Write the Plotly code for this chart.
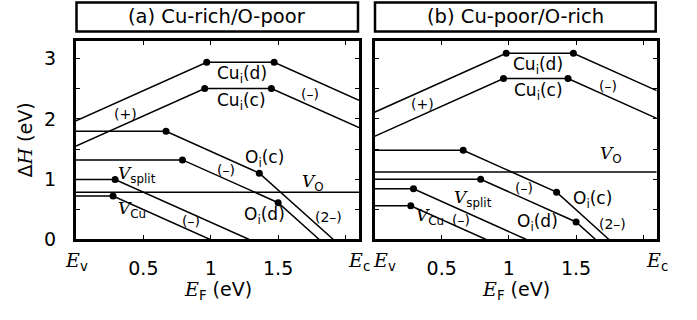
import plotly.graph_objects as go

# ---- formation energy ΔH (eV) versus Fermi level E_F (eV) ----
# each defect is a polyline; interior vertices are charge-transition levels

# (a) Cu-rich / O-poor
a_cui_d_ef = [0.0, 0.97, 1.47, 2.1]
a_cui_d_dh = [1.97, 2.94, 2.94, 2.31]
a_cui_c_ef = [0.0, 0.955, 1.45, 2.1]
a_cui_c_dh = [1.55, 2.505, 2.505, 1.855]
a_oi_c_ef = [0.0, 0.668, 1.36, 1.91]
a_oi_c_dh = [1.795, 1.795, 1.10, 0.0]
a_oi_d_ef = [0.0, 0.79, 1.50, 1.805]
a_oi_d_dh = [1.32, 1.32, 0.61, 0.0]
a_vsplit_ef = [0.0, 0.29, 1.285]
a_vsplit_dh = [0.995, 0.995, 0.0]
a_vcu_ef = [0.0, 0.275, 0.995]
a_vcu_dh = [0.72, 0.72, 0.0]
a_vo_ef = [0.0, 2.1]
a_vo_dh = [0.785, 0.785]

# (b) Cu-poor / O-rich
b_cui_d_ef = [0.0, 0.98, 1.48, 2.1]
b_cui_d_dh = [2.11, 3.09, 3.09, 2.47]
b_cui_c_ef = [0.0, 0.96, 1.44, 2.1]
b_cui_c_dh = [1.71, 2.67, 2.67, 2.01]
b_oi_c_ef = [0.0, 0.66, 1.355, 1.745]
b_oi_c_dh = [1.48, 1.48, 0.785, 0.0]
b_oi_d_ef = [0.0, 0.79, 1.50, 1.645]
b_oi_d_dh = [1.0, 1.0, 0.29, 0.0]
b_vsplit_ef = [0.0, 0.29, 1.13]
b_vsplit_dh = [0.84, 0.84, 0.0]
b_vcu_ef = [0.0, 0.27, 0.83]
b_vcu_dh = [0.56, 0.56, 0.0]
b_vo_ef = [0.0, 2.1]
b_vo_dh = [1.12, 1.12]

E_GAP = 2.1  # E_v = 0, E_c = band gap

panel_titles = ["(a) Cu-rich/O-poor", "(b) Cu-poor/O-rich"]
y_tick_vals = [0, 1, 2, 3]
y_tick_text = ["0", "1", "2", "3"]
y_minor_vals = [0.5, 1.5, 2.5]
x_tick_vals = [0.5, 1, 1.5]
x_tick_text = ["0.5", "1", "1.5"]
x_minor_vals = [2.0]

SANS = "DejaVu Sans"


def it(s):
    return f'<span style="font-family:DejaVu Serif;font-style:italic">{s}</span>'


E_V = it("E") + "<sub>v</sub>"
E_C = it("E") + "<sub>c</sub>"
V_SPLIT = it("V") + "<sub>split</sub>"
V_CU = it("V") + "<sub>Cu</sub>"
V_O = it("V") + "<sub>O</sub>"
CUI_D = "Cu<sub>i</sub>(d)"
CUI_C = "Cu<sub>i</sub>(c)"
OI_C = "O<sub>i</sub>(c)"
OI_D = "O<sub>i</sub>(d)"
PLUS = "(+)"
MINUS = "(–)"
MINUS2 = "(2–)"

panel_a = [(a_cui_d_ef, a_cui_d_dh), (a_cui_c_ef, a_cui_c_dh),
           (a_oi_c_ef, a_oi_c_dh), (a_oi_d_ef, a_oi_d_dh),
           (a_vsplit_ef, a_vsplit_dh), (a_vcu_ef, a_vcu_dh),
           (a_vo_ef, a_vo_dh)]
panel_b = [(b_cui_d_ef, b_cui_d_dh), (b_cui_c_ef, b_cui_c_dh),
           (b_oi_c_ef, b_oi_c_dh), (b_oi_d_ef, b_oi_d_dh),
           (b_vsplit_ef, b_vsplit_dh), (b_vcu_ef, b_vcu_dh),
           (b_vo_ef, b_vo_dh)]

# label placement: (text, E_F, ΔH, font size, x anchor)
labels_a = [
    (CUI_D, 1.23, 2.74, 17, "center"),
    (CUI_C, 1.23, 2.29, 17, "center"),
    (PLUS, 0.37, 2.08, 14, "center"),
    (MINUS, 1.74, 2.42, 14, "center"),
    (OI_C, 1.40, 1.35, 17, "center"),
    (MINUS, 1.11, 1.16, 14, "center"),
    (V_SPLIT, 0.30, 1.07, 17, "left"),
    (V_O, 1.755, 0.95, 17, "center"),
    (OI_D, 1.40, 0.40, 17, "center"),
    (MINUS2, 1.87, 0.37, 14, "center"),
    (V_CU, 0.30, 0.49, 17, "left"),
    (MINUS, 0.855, 0.30, 14, "center"),
]
labels_b = [
    (CUI_D, 1.22, 2.89, 17, "center"),
    (CUI_C, 1.22, 2.46, 17, "center"),
    (PLUS, 0.36, 2.24, 14, "center"),
    (MINUS, 1.74, 2.55, 14, "center"),
    (V_O, 1.76, 1.41, 17, "center"),
    (MINUS, 1.11, 0.86, 14, "center"),
    (OI_C, 1.62, 0.66, 17, "center"),
    (V_SPLIT, 0.575, 0.68, 17, "left"),
    (OI_D, 1.21, 0.28, 17, "center"),
    (MINUS2, 1.77, 0.25, 14, "center"),
    (V_CU, 0.294, 0.385, 17, "left"),
    (MINUS, 0.64, 0.32, 14, "center"),
]

W, H = 697, 320
# plot boxes in pixels
box_a = (76.0, 359.0)
box_b = (374.5, 656.7)
box_top, box_bot = 42.0, 248.0

fig = go.Figure()

for (ef, dh_vals), xa, ya in [(p, "x", "y") for p in panel_a] + [(p, "x2", "y2") for p in panel_b]:
    fig.add_trace(go.Scatter(x=ef, y=dh_vals, mode="lines", xaxis=xa, yaxis=ya,
                             line=dict(color="black", width=1.5),
                             hoverinfo="skip", showlegend=False))
    if len(ef) > 2:
        fig.add_trace(go.Scatter(x=ef[1:-1], y=dh_vals[1:-1], mode="markers",
                                 xaxis=xa, yaxis=ya,
                                 marker=dict(color="black", size=7),
                                 hoverinfo="skip", showlegend=False))

tick_style = dict(ticks="inside", ticklen=4, tickwidth=1, tickcolor="black")
common_x = dict(range=[0, E_GAP], showgrid=False, zeroline=False, showline=True,
                linecolor="black", linewidth=3, mirror="ticks",
                tickvals=x_tick_vals, ticktext=x_tick_text,
                minor=dict(tickvals=x_minor_vals, showgrid=False, **tick_style),
                tickfont=dict(family=SANS, size=19, color="black"),
                ticklabelstandoff=10, fixedrange=True, **tick_style)
common_y = dict(range=[0, 3.3], showgrid=False, zeroline=False, showline=True,
                linecolor="black", linewidth=3, mirror="ticks",
                tickvals=y_tick_vals, ticktext=y_tick_text,
                minor=dict(tickvals=y_minor_vals, showgrid=False, **tick_style),
                tickfont=dict(family=SANS, size=19, color="black"),
                ticklabelstandoff=13, fixedrange=True, **tick_style)

ydom = [1 - box_bot / H, 1 - box_top / H]
fig.update_layout(
    width=W, height=H, margin=dict(l=0, r=0, t=0, b=0),
    paper_bgcolor="white", plot_bgcolor="white",
    xaxis=dict(common_x, domain=[box_a[0] / W, box_a[1] / W], anchor="y"),
    yaxis=dict(common_y, domain=ydom, anchor="x"),
    xaxis2=dict(common_x, domain=[box_b[0] / W, box_b[1] / W], anchor="y2"),
    yaxis2=dict(common_y, domain=ydom, anchor="x2", showticklabels=False),
    showlegend=False,
)

annotations = []
for labels, xr, yr in [(labels_a, "x", "y"), (labels_b, "x2", "y2")]:
    for text, xv, yv, size, anc in labels:
        annotations.append(dict(text=text, x=xv, y=yv, xref=xr, yref=yr,
                                xanchor=anc, yanchor="middle", showarrow=False,
                                font=dict(family=SANS, size=size, color="black")))

# band-edge labels under the axes
edge_y = 1 - 271 / H
for xr, txt, xv, anc, shift in [("x", E_V, 0, "center", 0), ("x", E_C, E_GAP, "center", 0),
                                ("x2", E_V, 0, "left", -4), ("x2", E_C, E_GAP, "center", 0)]:
    annotations.append(dict(text=txt, x=xv, y=edge_y, xref=xr, yref="paper",
                            xanchor=anc, yanchor="middle", xshift=shift, showarrow=False,
                            font=dict(family=SANS, size=19, color="black")))

# axis titles
for box in (box_a, box_b):
    annotations.append(dict(text=it("E") + "<sub>F</sub> (eV)", x=(box[0] + box[1]) / 2 / W,
                            y=1 - 301 / H, xref="paper", yref="paper",
                            xanchor="center", yanchor="middle", showarrow=False,
                            font=dict(family=SANS, size=19, color="black")))
annotations.append(dict(text="Δ" + it("H") + " (eV)", x=25.5 / W, y=1 - 145 / H,
                        xref="paper", yref="paper", textangle=-90,
                        xanchor="center", yanchor="middle", showarrow=False,
                        font=dict(family=SANS, size=19, color="black")))

# panel title boxes
shapes = []
for box, title in zip((box_a, box_b), panel_titles):
    x0, x1 = (box[0] + 0.5) / W, (box[1] - 1) / W
    shapes.append(dict(type="rect", xref="paper", yref="paper",
                       x0=x0, x1=x1, y0=1 - 32.5 / H, y1=1 - 2.5 / H,
                       line=dict(color="black", width=2.5), fillcolor="rgba(0,0,0,0)"))
    annotations.append(dict(text=title, x=(x0 + x1) / 2, y=1 - 17.5 / H,
                            xref="paper", yref="paper", xanchor="center", yanchor="middle",
                            showarrow=False, font=dict(family=SANS, size=19.5, color="black")))

fig.update_layout(annotations=annotations, shapes=shapes)
fig.write_html("out.html")
